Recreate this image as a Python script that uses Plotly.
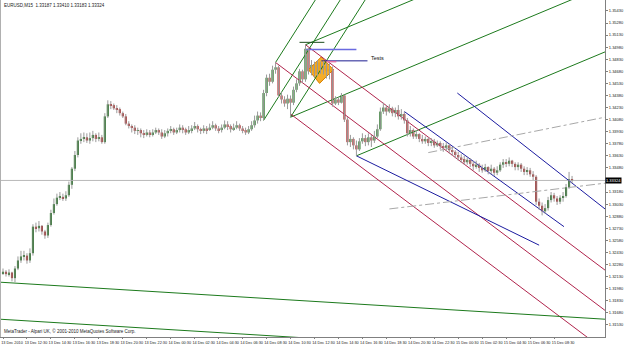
import plotly.graph_objects as go

# ---------------- data (EURUSD M15) ----------------
first_open = 1.3217
close = [
1.3219,1.3216,1.3218,1.3211,1.3223,1.3233,1.3238,1.3239,1.3233,1.3242,
1.3275,1.3273,1.3276,1.3269,1.3264,1.3277,1.3292,1.3303,1.3311,1.3312,
1.3310,1.3314,1.3327,1.3347,1.3364,1.3382,1.3384,1.3386,1.3382,1.3385,
1.3389,1.3384,1.3386,1.3380,1.3412,1.3427,1.3426,1.3422,1.3421,1.3416,
1.3412,1.3403,1.3400,1.3398,1.3394,1.3395,1.3391,1.3389,1.3392,1.3390,
1.3392,1.3395,1.3392,1.3387,1.3391,1.3394,1.3396,1.3392,1.3395,1.3398,
1.3396,1.3392,1.3395,1.3397,1.3400,1.3396,1.3394,1.3397,1.3395,1.3398,
1.3401,1.3397,1.3395,1.3398,1.3402,1.3400,1.3396,1.3398,1.3401,1.3397,
1.3395,1.3392,1.3396,1.3401,1.3407,1.3413,1.3410,1.3441,1.3460,1.3455,
1.3470,1.3473,1.3438,1.3433,1.3428,1.3434,1.3429,1.3445,1.3453,1.3468,
1.3458,1.3496,1.3468,1.3476,1.3465,1.3479,1.3470,1.3475,1.3468,1.3471,
1.3428,1.3433,1.3429,1.3438,1.3408,1.3380,1.3384,1.3376,1.3371,1.3381,
1.3385,1.3380,1.3386,1.3382,1.3387,1.3396,1.3418,1.3423,1.3418,1.3422,
1.3416,1.3420,1.3412,1.3415,1.3407,1.3391,1.3395,1.3387,1.3390,1.3384,
1.3381,1.3384,1.3379,1.3381,1.3376,1.3379,1.3375,1.3373,1.3376,1.3370,
1.3368,1.3364,1.3361,1.3359,1.3355,1.3358,1.3353,1.3350,1.3352,1.3348,
1.3345,1.3349,1.3344,1.3347,1.3342,1.3345,1.3352,1.3355,1.3353,1.3357,
1.3353,1.3349,1.3352,1.3347,1.3343,1.3345,1.3340,1.3337,1.3306,1.3301,
1.3294,1.3298,1.3308,1.3314,1.3310,1.3306,1.3311,1.3313,1.3324,1.3334,
1.33324]
high = [
1.3223,1.3221,1.3222,1.3219,1.3226,1.3238,1.3245,1.3245,1.3242,1.3248,
1.3278,1.3280,1.3282,1.3277,1.3271,1.3280,1.3296,1.3310,1.3316,1.3318,
1.3316,1.3319,1.3331,1.3349,1.3369,1.3386,1.3391,1.3392,1.3391,1.3392,
1.3394,1.3391,1.3392,1.3389,1.3416,1.3432,1.3431,1.3428,1.3426,1.3423,
1.3418,1.3415,1.3406,1.3402,1.3401,1.3398,1.3397,1.3395,1.3396,1.3395,
1.3396,1.3398,1.3397,1.3396,1.3395,1.3397,1.3400,1.3398,1.3398,1.3402,
1.3401,1.3398,1.3400,1.3401,1.3405,1.3402,1.3398,1.3401,1.3400,1.3403,
1.3406,1.3403,1.3400,1.3402,1.3407,1.3406,1.3402,1.3403,1.3406,1.3403,
1.3400,1.3398,1.3400,1.3406,1.3413,1.3418,1.3417,1.3445,1.3464,1.3465,
1.3475,1.3479,1.3475,1.3442,1.3437,1.3439,1.3438,1.3449,1.3458,1.3471,
1.3470,1.3501,1.3497,1.3482,1.3480,1.3482,1.3480,1.3481,1.3478,1.3478,
1.3474,1.3437,1.3436,1.3441,1.3439,1.3411,1.3389,1.3386,1.3382,1.3385,
1.3391,1.3389,1.3391,1.3389,1.3394,1.3402,1.3423,1.3429,1.3426,1.3427,
1.3424,1.3423,1.3426,1.3421,1.3418,1.3410,1.3400,1.3397,1.3395,1.3391,
1.3389,1.3387,1.3386,1.3385,1.3384,1.3382,1.3381,1.3379,1.3380,1.3378,
1.3374,1.3370,1.3368,1.3365,1.3363,1.3361,1.3360,1.3357,1.3357,1.3354,
1.3352,1.3353,1.3350,1.3352,1.3349,1.3350,1.3355,1.3359,1.3359,1.3361,
1.3358,1.3355,1.3355,1.3354,1.3350,1.3349,1.3348,1.3344,1.3339,1.3310,
1.3305,1.3303,1.3312,1.3318,1.3317,1.3313,1.3314,1.3318,1.3328,1.3343,
1.3338]
low = [
1.3215,1.3213,1.3213,1.3207,1.3206,1.3221,1.3230,1.3233,1.3229,1.3230,
1.3239,1.3268,1.3269,1.3265,1.3260,1.3261,1.3275,1.3290,1.3301,1.3308,
1.3307,1.3307,1.3312,1.3322,1.3344,1.3361,1.3378,1.3380,1.3379,1.3378,
1.3381,1.3380,1.3381,1.3378,1.3378,1.3410,1.3421,1.3420,1.3416,1.3413,
1.3410,1.3401,1.3397,1.3392,1.3390,1.3389,1.3386,1.3385,1.3387,1.3386,
1.3387,1.3390,1.3389,1.3384,1.3385,1.3387,1.3391,1.3389,1.3390,1.3392,
1.3391,1.3389,1.3390,1.3391,1.3395,1.3392,1.3390,1.3391,1.3390,1.3394,
1.3396,1.3394,1.3391,1.3392,1.3396,1.3395,1.3392,1.3394,1.3396,1.3394,
1.3391,1.3389,1.3390,1.3394,1.3398,1.3403,1.3406,1.3407,1.3437,1.3450,
1.3453,1.3465,1.3436,1.3428,1.3424,1.3421,1.3411,1.3426,1.3442,1.3450,
1.3454,1.3455,1.3464,1.3463,1.3460,1.3462,1.3465,1.3464,1.3459,1.3458,
1.3424,1.3426,1.3426,1.3428,1.3405,1.3376,1.3374,1.3371,1.3363,1.3369,
1.3378,1.3375,1.3376,1.3374,1.3379,1.3385,1.3394,1.3415,1.3413,1.3416,
1.3412,1.3411,1.3408,1.3408,1.3403,1.3387,1.3387,1.3384,1.3384,1.3380,
1.3378,1.3378,1.3375,1.3375,1.3373,1.3374,1.3371,1.3368,1.3369,1.3366,
1.3363,1.3360,1.3357,1.3354,1.3352,1.3352,1.3349,1.3345,1.3347,1.3343,
1.3342,1.3343,1.3340,1.3340,1.3338,1.3339,1.3343,1.3348,1.3349,1.3350,
1.3349,1.3345,1.3345,1.3343,1.3339,1.3339,1.3337,1.3333,1.3302,1.3296,
1.3289,1.3291,1.3295,1.3305,1.3306,1.3302,1.3303,1.3306,1.3311,1.3322,
1.3329]
open_ = [first_open] + close[:-1]

time_labels = ["13 Dec 2010", "13 Dec 12:30", "13 Dec 14:30", "13 Dec 16:30", "13 Dec 18:30",
               "13 Dec 20:30", "13 Dec 22:30", "14 Dec 00:30", "14 Dec 02:30", "14 Dec 04:30",
               "14 Dec 06:30", "14 Dec 08:30", "14 Dec 10:30", "14 Dec 12:30", "14 Dec 14:30",
               "14 Dec 16:30", "14 Dec 18:30", "14 Dec 20:30", "14 Dec 22:30", "15 Dec 00:30",
               "15 Dec 02:30", "15 Dec 04:30", "15 Dec 06:30", "15 Dec 08:30"]
time_label_bars = [8 * k for k in range(len(time_labels))]

# price scale labels (the one at 1.33330 is hidden behind the current-price box)
price_ticks = [1.35430, 1.35280, 1.35130, 1.34980, 1.34830, 1.34680, 1.34530, 1.34380, 1.34230,
               1.34080, 1.33930, 1.33780, 1.33630, 1.33480, 1.33180, 1.33030, 1.32880,
               1.32730, 1.32580, 1.32430, 1.32280, 1.32130, 1.31980, 1.31830, 1.31680, 1.31530]
current_price = 1.33324
title_text = "EURUSD,M15  1.33187 1.33410 1.33183 1.33324"
copyright_text = "MetaTrader - Alpari UK, \u00a9 2001-2010 MetaQuotes Software Corp."

# Andrews pitchforks: (bar, price) pivots
fork_green_steep = [(87, 1.3407), (91, 1.3479), (96, 1.3411)]
fork_green = [(96, 1.3411), (101, 1.3501), (118, 1.3363)]
fork_red = [(91, 1.3479), (101, 1.3501), (96, 1.3415)]
# other trend lines: (bar0, price0, bar1, price1)
green_lines = [(-1, 1.3206, 201, 1.3160), (-1, 1.3160, 201, 1.3114)]
blue_lines = [(151.7, 1.3441, 201, 1.3297), (134, 1.3418, 187.3, 1.3275), (118, 1.3363, 179, 1.3252)]
gray_lines = [(129, 1.3297, 201, 1.3329), (142, 1.3367, 201, 1.3411)]
diamond_bars = [106.3, 110.3, 105.7, 102, 106.3]
diamond_prices = [1.3486, 1.3470, 1.3453, 1.3470, 1.3486]

X_MIN, X_MAX = -1, 201
Y_MIN, Y_MAX = 1.31379, 1.35566

GREEN = "#1c7a1c"
RED = "#b0244c"
BLUE = "#1c1ca0"

fig = go.Figure()

def add_line(x0, y0, x1, y1, color, width=1, dash="solid"):
    fig.add_trace(go.Scatter(x=[x0, x1], y=[y0, y1], mode="lines",
                             line=dict(color=color, width=width, dash=dash),
                             hoverinfo="skip", showlegend=False))

# diamond highlight
fig.add_trace(go.Scatter(x=diamond_bars, y=diamond_prices, mode="lines", fill="toself",
                         fillcolor="rgba(245,165,20,0.9)", line=dict(color="#d98000", width=1),
                         hoverinfo="skip", showlegend=False))

# current price line
add_line(X_MIN, current_price, X_MAX, current_price, "#b8b8b8")

# pitchforks
def fork_lines(P, x_end):
    (x1, y1), (x2, y2), (x3, y3) = P
    mx, my = (x2 + x3) / 2, (y2 + y3) / 2
    s = (my - y1) / (mx - x1)
    return [(px, py, x_end, py + s * (x_end - px)) for px, py in P]

for seg in fork_lines(fork_green_steep, 140):
    add_line(*seg, GREEN)
for seg in fork_lines(fork_green, X_MAX):
    add_line(*seg, GREEN)
for seg in fork_lines(fork_red, X_MAX):
    add_line(*seg, RED)
for seg in green_lines:
    add_line(*seg, GREEN)
for seg in blue_lines:
    add_line(*seg, BLUE)
for seg in gray_lines:
    add_line(*seg, "#a8a8a8", dash="dashdot")

# "Tests" markup
add_line(99, 1.3504, 107.3, 1.3504, "#1d4d1d")
add_line(101.3, 1.3495, 118, 1.3495, "#6a6ae0", width=1.5)
add_line(106.3, 1.3481, 121.7, 1.3481, "#1c1c90")
add_line(108, 1.3480, 111.3, 1.3480, "#e070a8", width=1.5)

# candles: wicks
wx, wy = [], []
for i in range(len(close)):
    wx += [i, i, None]
    wy += [low[i], high[i], None]
fig.add_trace(go.Scatter(x=wx, y=wy, mode="lines", line=dict(color="#9a9a9a", width=1),
                         hoverinfo="skip", showlegend=False))
# bodies
MIN_BODY = 0.00005
for up, color in ((True, "#136b13"), (False, "#a81c1c")):
    xs, bases, hs = [], [], []
    for i in range(len(close)):
        if (close[i] >= open_[i]) == up:
            lo = min(open_[i], close[i])
            h = abs(close[i] - open_[i])
            xs.append(i); bases.append(lo); hs.append(max(h, MIN_BODY))
    fig.add_trace(go.Bar(x=xs, y=hs, base=bases, width=0.7, marker=dict(color=color, line=dict(width=0)),
                         hoverinfo="skip", showlegend=False))

FONT = "Liberation Sans, Arial, sans-serif"
NARROW = "Liberation Sans Narrow, Arial Narrow, Liberation Sans, sans-serif"
fig.add_annotation(x=0.004, y=0.997, xref="paper", yref="paper", text=title_text, showarrow=False,
                   xanchor="left", yanchor="top", font=dict(size=4.5, color="#202020", family=FONT))
fig.add_annotation(x=0.004, y=0.004, xref="paper", yref="paper", text=copyright_text, showarrow=False,
                   xanchor="left", yanchor="bottom", font=dict(size=4.5, color="#202020", family=FONT))
fig.add_annotation(x=122.3, y=1.3485, text="Tests", showarrow=False, xanchor="left", yanchor="middle",
                   font=dict(size=5.5, color="#101010", family=FONT))
fig.add_annotation(x=1.0, y=current_price, xref="paper", yref="y", text=f"{current_price:.5f}",
                   showarrow=False, xanchor="left", yanchor="middle", bgcolor="#000000",
                   font=dict(size=4, color="#ffffff", family=FONT), borderpad=0)

# left window border
fig.add_shape(type="line", x0=0, x1=0, y0=0, y1=1, xref="paper", yref="paper",
              line=dict(color="#b0b0b0", width=2))

fig.update_layout(
    width=625, height=346, margin=dict(l=0, r=20, t=0, b=9, autoexpand=False),
    paper_bgcolor="white", plot_bgcolor="white", barmode="overlay", showlegend=False,
    xaxis=dict(range=[X_MIN, X_MAX], tickvals=time_label_bars, ticktext=time_labels,
               automargin=False, tickangle=0,
               showgrid=False, zeroline=False, showline=True, linecolor="#808080", linewidth=1,
               ticks="outside", ticklen=1, tickcolor="#808080", ticklabelshift=9, ticklabelstandoff=0,
               tickfont=dict(size=3.8, color="#202020", family=NARROW), fixedrange=True),
    yaxis=dict(range=[Y_MIN, Y_MAX], side="right", tickvals=price_ticks,
               ticktext=[f"{v:.5f}" for v in price_ticks], automargin=False,
               showgrid=False, zeroline=False, showline=True, linecolor="#808080", linewidth=1,
               ticks="outside", ticklen=2, tickcolor="#808080", ticklabelstandoff=0,
               tickfont=dict(size=4, color="#202020", family=FONT), fixedrange=True),
)

fig.write_html("out.html")
